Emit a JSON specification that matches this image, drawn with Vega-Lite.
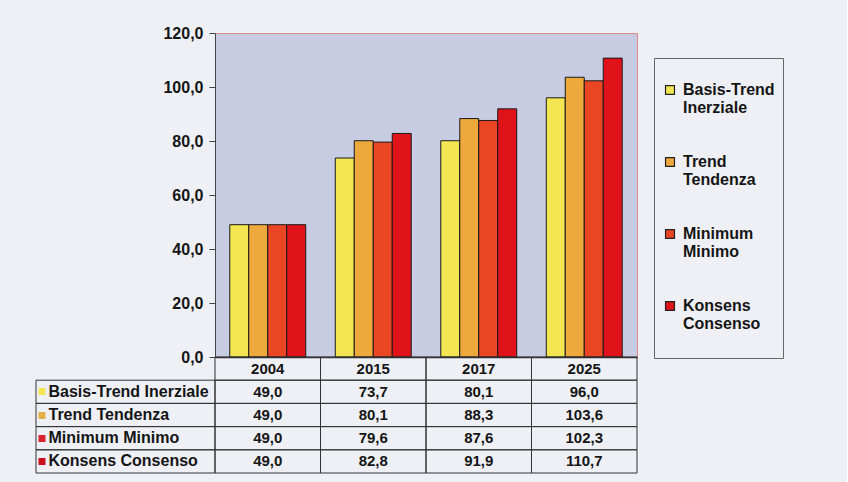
{
  "$schema": "https://vega.github.io/schema/vega-lite/v6.json",
  "background": "#eef0f6",
  "padding": {"left": 34, "top": 24, "right": 63, "bottom": 8},
  "datasets": {
    "d": [
      {"year": "2004", "series": "Basis-Trend Inerziale", "value": 49.0},
      {"year": "2004", "series": "Trend Tendenza", "value": 49.0},
      {"year": "2004", "series": "Minimum Minimo", "value": 49.0},
      {"year": "2004", "series": "Konsens Consenso", "value": 49.0},
      {"year": "2015", "series": "Basis-Trend Inerziale", "value": 73.7},
      {"year": "2015", "series": "Trend Tendenza", "value": 80.1},
      {"year": "2015", "series": "Minimum Minimo", "value": 79.6},
      {"year": "2015", "series": "Konsens Consenso", "value": 82.8},
      {"year": "2017", "series": "Basis-Trend Inerziale", "value": 80.1},
      {"year": "2017", "series": "Trend Tendenza", "value": 88.3},
      {"year": "2017", "series": "Minimum Minimo", "value": 87.6},
      {"year": "2017", "series": "Konsens Consenso", "value": 91.9},
      {"year": "2025", "series": "Basis-Trend Inerziale", "value": 96.0},
      {"year": "2025", "series": "Trend Tendenza", "value": 103.6},
      {"year": "2025", "series": "Minimum Minimo", "value": 102.3},
      {"year": "2025", "series": "Konsens Consenso", "value": 110.7}
    ]
  },
  "columns": 2,
  "spacing": 0,
  "bounds": "flush",
  "concat": [
    {
      "width": 179,
      "height": 324,
      "data": {"values": []},
      "mark": "point",
      "encoding": {},
      "view": {"stroke": null, "fill": null}
    },
    {
      "width": 422,
      "height": 324,
      "data": {"name": "d"},
      "view": {"fill": "#c7cce3", "stroke": "#d98a8a", "strokeWidth": 1},
      "mark": {"type": "bar", "stroke": "#1a1a1a", "strokeWidth": 1},
      "encoding": {
        "x": {
          "field": "year", "type": "nominal",
          "scale": {"paddingInner": 0.28, "paddingOuter": 0.14},
          "axis": {"title": null, "labels": false, "ticks": false, "domainColor": "#333", "domainWidth": 1.5}
        },
        "xOffset": {
          "field": "series", "type": "nominal",
          "sort": ["Basis-Trend Inerziale", "Trend Tendenza", "Minimum Minimo", "Konsens Consenso"],
          "scale": {"paddingInner": 0, "paddingOuter": 0}
        },
        "y": {
          "field": "value", "type": "quantitative",
          "scale": {"domain": [0, 120], "nice": false},
          "axis": {
            "title": null, "values": [0, 20, 40, 60, 80, 100, 120], "format": ".1f",
            "grid": false, "tickSize": 6, "tickColor": "#444", "domainColor": "#444",
            "labelFontSize": 16, "labelFontWeight": "bold", "labelColor": "#151515", "labelPadding": 6
          }
        },
        "color": {
          "field": "series", "type": "nominal",
          "scale": {
            "domain": ["Basis-Trend Inerziale", "Trend Tendenza", "Minimum Minimo", "Konsens Consenso"],
            "range": ["#f4e552", "#eea93c", "#ea4623", "#e0131a"]
          },
          "legend": {
            "orient": "none", "legendX": 439, "legendY": 25,
            "title": " ", "titleFontSize": 6, "titlePadding": 10,
            "symbolType": "square", "symbolSize": 80,
            "symbolStrokeColor": "#222", "symbolStrokeWidth": 1.2, "symbolOpacity": 1,
            "labelFontSize": 16, "labelFontWeight": "bold", "labelColor": "#151515",
            "labelExpr": "datum.label == 'Konsens Consenso' ? ['Konsens', 'Consenso', ''] : split(datum.label, ' ')",
            "rowPadding": 38, "padding": 8, "strokeColor": "#666", "labelOffset": 5
          }
        }
      }
    },
    {
      "width": 179,
      "height": 116,
      "data": {"name": "d"},
      "transform": [{"filter": "datum.year == '2004'"}],
      "view": {"stroke": null},
      "mark": {"type": "rect", "fill": "transparent", "stroke": "#333", "strokeWidth": 1},
      "encoding": {
        "y": {
          "field": "series", "type": "nominal",
          "scale": {"domain": ["Jahr", "Basis-Trend Inerziale", "Trend Tendenza", "Minimum Minimo", "Konsens Consenso"], "paddingInner": 0, "paddingOuter": 0},
          "axis": {
            "title": null, "domain": false, "offset": -9,
            "tickSize": 7, "tickWidth": 7,
            "tickColor": {
              "condition": [
                {"test": "datum.value == 'Basis-Trend Inerziale'", "value": "#f4e552"},
                {"test": "datum.value == 'Trend Tendenza'", "value": "#e3b04a"},
                {"test": "datum.value == 'Minimum Minimo'", "value": "#d9232a"},
                {"test": "datum.value == 'Konsens Consenso'", "value": "#c8101c"}
              ],
              "value": "transparent"
            },
            "labelAlign": "left", "labelPadding": -10,
            "labelExpr": "datum.value == 'Jahr' ? '' : datum.value",
            "labelFontSize": 16, "labelFontWeight": "bold", "labelColor": "#151515", "labelLimit": 0
          }
        }
      }
    },
    {
      "width": 422,
      "height": 116,
      "view": {"stroke": null},
      "data": {"name": "d"},
      "encoding": {
        "x": {"field": "year", "type": "nominal", "scale": {"paddingInner": 0, "paddingOuter": 0}, "axis": null}
      },
      "layer": [
        {
          "mark": {"type": "rect", "fill": "transparent", "stroke": "#333", "strokeWidth": 1},
          "encoding": {
            "y": {"field": "series", "type": "nominal", "scale": {"domain": ["Jahr", "Basis-Trend Inerziale", "Trend Tendenza", "Minimum Minimo", "Konsens Consenso"], "paddingInner": 0, "paddingOuter": 0}, "axis": null}
          }
        },
        {
          "transform": [{"aggregate": [{"op": "count", "as": "n"}], "groupby": ["year"]}],
          "mark": {"type": "rect", "fill": "transparent", "stroke": "#333", "strokeWidth": 1},
          "encoding": {"y": {"datum": "Jahr", "type": "nominal"}}
        },
        {
          "transform": [{"aggregate": [{"op": "count", "as": "n"}], "groupby": ["year"]}],
          "mark": {"type": "text", "fontSize": 15, "fontWeight": "bold", "color": "#151515"},
          "encoding": {"y": {"datum": "Jahr", "type": "nominal"}, "text": {"field": "year"}}
        },
        {
          "mark": {"type": "text", "fontSize": 15, "fontWeight": "bold", "color": "#151515"},
          "encoding": {
            "y": {"field": "series", "type": "nominal"},
            "text": {"field": "value", "type": "quantitative", "format": ".1f"}
          }
        }
      ]
    }
  ],
  "resolve": {
    "scale": {"x": "independent", "y": "independent"},
    "legend": {"color": "independent"}
  },
  "config": {
    "font": "Liberation Sans",
    "locale": {"number": {"decimal": ",", "thousands": ".", "grouping": [3], "currency": ["", " €"]}}
  }
}
